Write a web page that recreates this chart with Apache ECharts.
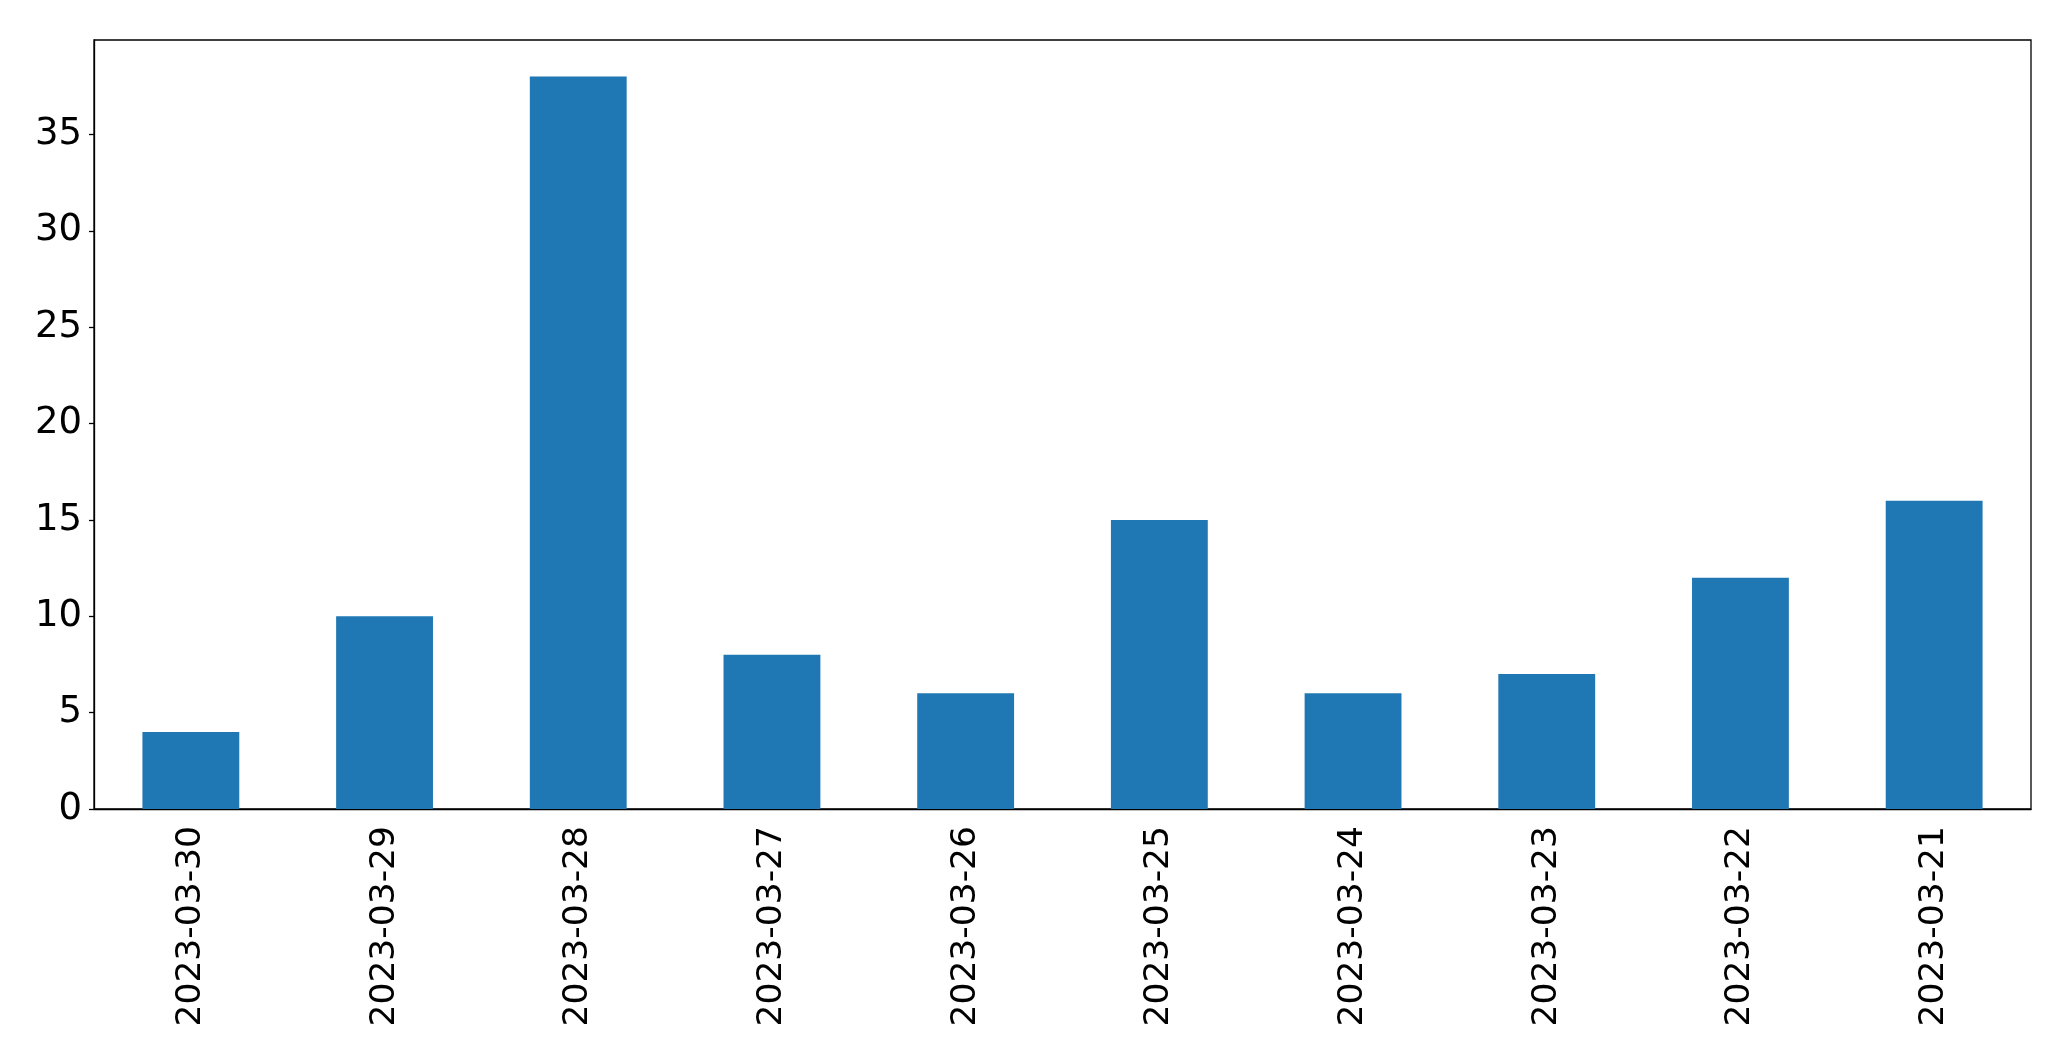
<!DOCTYPE html>
<html><head><meta charset="utf-8">
<script src="https://cdn.jsdelivr.net/npm/echarts@6/dist/echarts.min.js"></script>
<style>html,body{margin:0;padding:0;background:#fff}#c{width:2071px;height:1061px}</style>
</head><body><div id="c"></div>
<script>
const categories = ["2023-03-30","2023-03-29","2023-03-28","2023-03-27","2023-03-26","2023-03-25","2023-03-24","2023-03-23","2023-03-22","2023-03-21"];
const values = [4, 10, 38, 8, 6, 15, 6, 7, 12, 16];
const yTicks = [0, 5, 10, 15, 20, 25, 30, 35];

const chart = echarts.init(document.getElementById('c'), null, {renderer: 'canvas'});
const font = 'DejaVu Sans';
chart.setOption({
  animation: false,
  backgroundColor: '#fff',
  grid: {left: 94, right: 40, top: 40, bottom: 252, show: true, borderColor: '#000', borderWidth: 1.3, containLabel: false},
  xAxis: {
    type: 'category', data: categories,
    axisLine: {lineStyle: {color: '#000', width: 1.3}},
    axisTick: {alignWithLabel: true, length: 5, lineStyle: {color: '#000', width: 1.3}},
    axisLabel: {rotate: 90, fontSize: 34.5, fontFamily: font, color: '#000', margin: 17, interval: 0}
  },
  yAxis: {
    type: 'value', min: 0, max: 39.9, interval: 5,
    splitLine: {show: false},
    axisLine: {show: true, lineStyle: {color: '#000', width: 1.3}},
    axisTick: {show: true, length: 5, customValues: yTicks, lineStyle: {color: '#000', width: 1.3}},
    axisLabel: {fontSize: 37, fontFamily: font, color: '#000', margin: 12, customValues: yTicks}
  },
  series: [{
    type: 'bar', data: values, barWidth: '50%',
    itemStyle: {color: '#1f77b4'}
  }]
});
</script></body></html>
